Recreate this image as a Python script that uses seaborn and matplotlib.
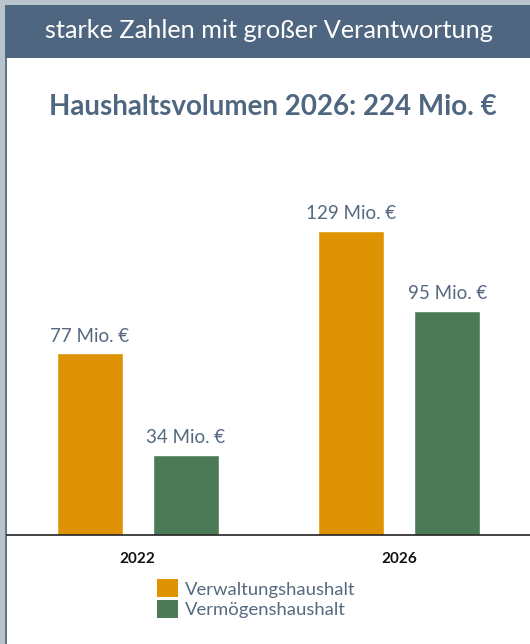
import matplotlib
matplotlib.use("Agg")
import matplotlib.pyplot as plt
import seaborn as sns
import pandas as pd
from matplotlib.patches import Rectangle, Patch

years = ["2022", "2026"]
series = ["Verwaltungshaushalt", "Vermögenshaushalt"]
verwaltung = [77, 129]
vermoegen = [34, 95]
header_text = "starke Zahlen mit großer Verantwortung"
title_text = "Haushaltsvolumen 2026: 224 Mio. €"

df = pd.DataFrame({
    "Jahr": years * 2,
    "Haushalt": [series[0]] * 2 + [series[1]] * 2,
    "Wert": verwaltung + vermoegen,
})

sns.set_theme(style="white")
plt.rcParams["font.family"] = ["Lato", "DejaVu Sans"]

ORANGE = "#DE9305"
GREEN = "#4C7956"
SLATE = "#4F6680"
LABEL = "#56697F"

W, H = 530, 644
fig = plt.figure(figsize=(W / 100, H / 100), dpi=100)
fig.patch.set_facecolor("#B9C3CC")

def fx(px):
    return px / W

def fy(py):
    return 1 - py / H

# white panel
fig.patches.append(Rectangle((fx(7), 0), 1 - fx(7), fy(58), transform=fig.transFigure,
                             facecolor="white", edgecolor="none", zorder=-10))
# left dark line
fig.patches.append(Rectangle((fx(5), 0), fx(2), fy(58), transform=fig.transFigure,
                             facecolor="#62778C", edgecolor="none", zorder=-10))
# header band
fig.patches.append(Rectangle((fx(5), fy(58)), 1 - fx(5), (58 - 5) / H, transform=fig.transFigure,
                             facecolor=SLATE, edgecolor="none", zorder=-10))
fig.text(fx(269), fy(31), header_text, ha="center", va="center", color="white", fontsize=18.2)
fig.text(fx(273), fy(107), title_text, ha="center", va="center", color=SLATE,
         fontsize=20, fontweight="bold")

bottom_px = 535
top_px = 140
ax = fig.add_axes([fx(7), fy(bottom_px), 1 - fx(7), (bottom_px - top_px) / H])
ax.set_facecolor("none")

sns.barplot(data=df, x="Jahr", y="Wert", hue="Haushalt", hue_order=series,
            palette=[ORANGE, GREEN], width=0.734, gap=0.313, ax=ax, legend=False,
            saturation=1)

scale = 2.36  # px per unit
ax.set_ylim(0, (bottom_px - top_px) / scale)
ax.set_xlim(-0.5, 1.5)

for container in ax.containers:
    ax.bar_label(container, labels=[f"{v:.0f} Mio. €" for v in container.datavalues],
                 padding=6, color=LABEL, fontsize=13.5)

ax.set_xlabel("")
ax.set_ylabel("")
ax.set_yticks([])
for s in ["top", "right", "left"]:
    ax.spines[s].set_visible(False)
ax.spines["bottom"].set_color("#222222")
ax.spines["bottom"].set_linewidth(1.2)
ax.tick_params(axis="x", length=0, pad=12)
for t in ax.get_xticklabels():
    t.set_fontweight("bold")
    t.set_fontsize(11)
    t.set_color("#111111")

handles = [Patch(facecolor=ORANGE, edgecolor="none"), Patch(facecolor=GREEN, edgecolor="none")]
leg = fig.legend(handles, series, loc="upper left", bbox_to_anchor=(fx(150), fy(572)),
                 frameon=False, fontsize=13.3, handlelength=1.1, handleheight=1.1,
                 handletextpad=0.4, labelspacing=0.15, borderaxespad=0)
for t in leg.get_texts():
    t.set_color(LABEL)

fig.savefig("out.png", dpi=100, facecolor=fig.get_facecolor())
